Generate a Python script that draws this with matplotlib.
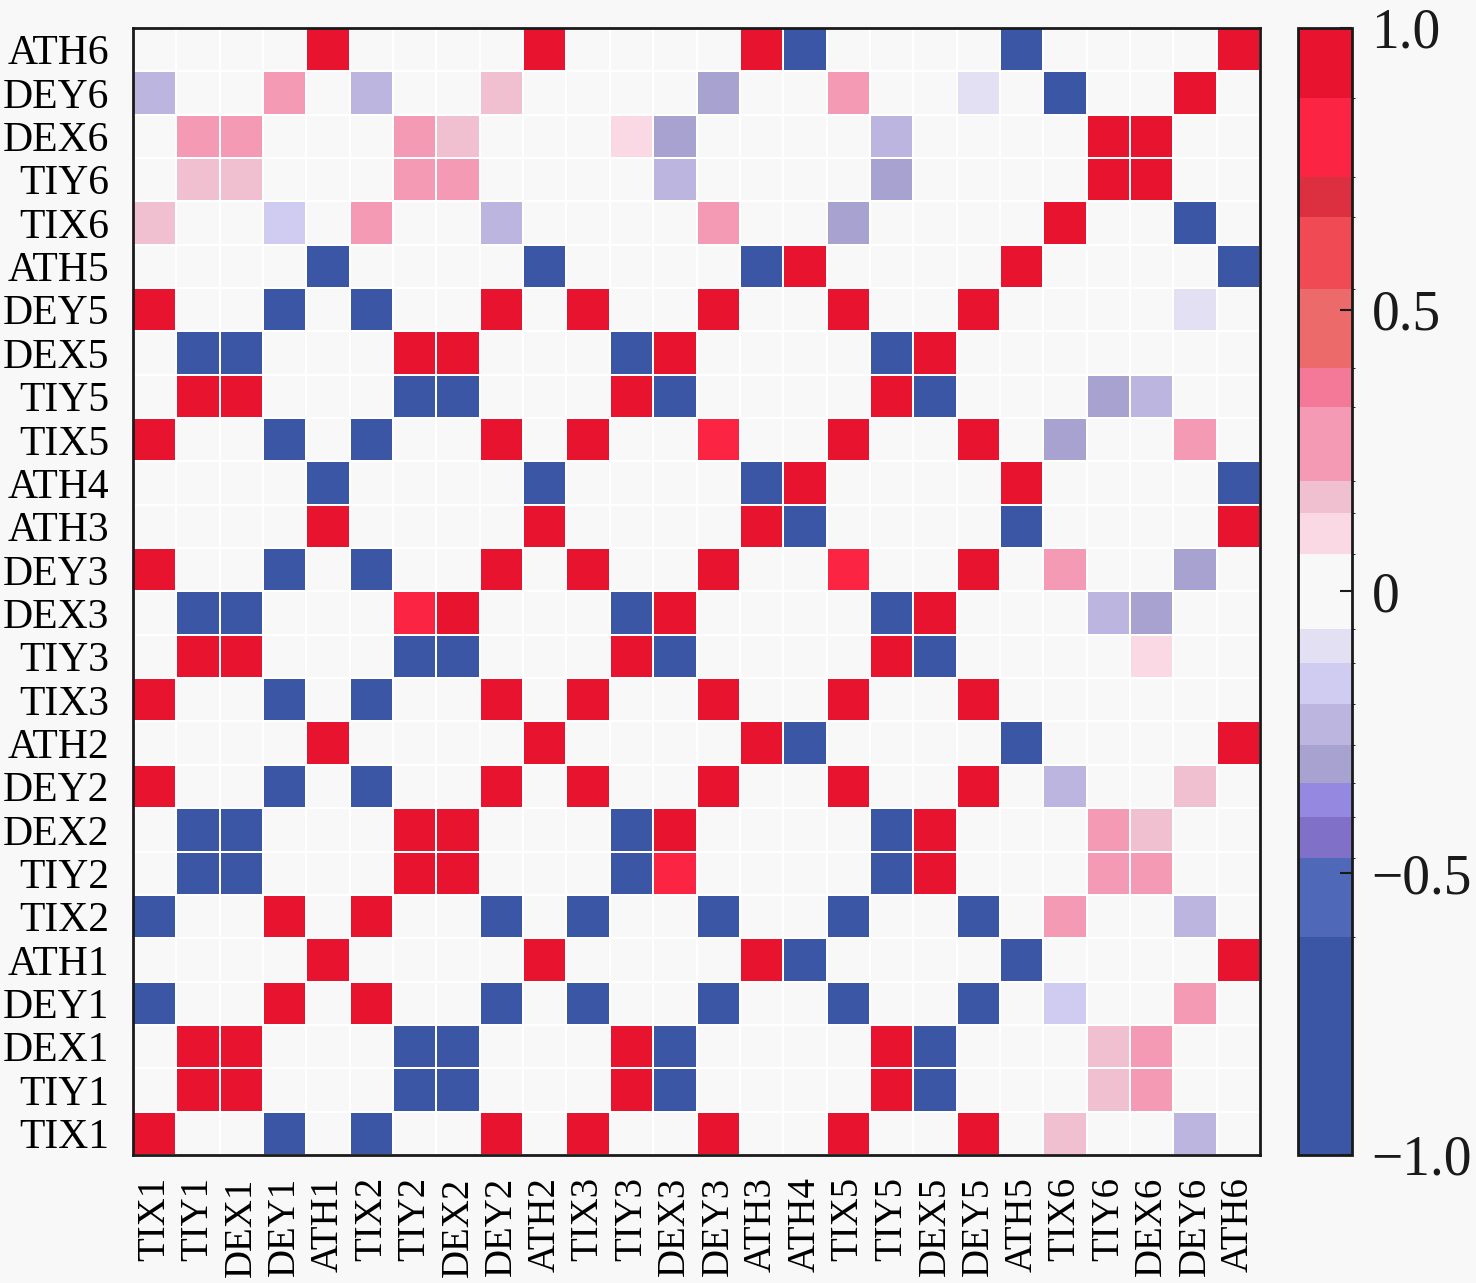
import numpy as np
import matplotlib.pyplot as plt
from matplotlib.colors import ListedColormap, BoundaryNorm

# category order (columns left->right, rows bottom->top)
labels = ['TIX1', 'TIY1', 'DEX1', 'DEY1', 'ATH1', 'TIX2', 'TIY2', 'DEX2', 'DEY2', 'ATH2',
          'TIX3', 'TIY3', 'DEX3', 'DEY3', 'ATH3', 'ATH4', 'TIX5', 'TIY5', 'DEX5', 'DEY5',
          'ATH5', 'TIX6', 'TIY6', 'DEX6', 'DEY6', 'ATH6']

# one list per row
TIX1 = [0.95, 0, 0, -0.95, 0, -0.95, 0, 0, 0.95, 0, 0.95, 0, 0, 0.95, 0, 0, 0.95, 0, 0, 0.95, 0, 0.17, 0, 0, -0.23, 0]
TIY1 = [0, 0.95, 0.95, 0, 0, 0, -0.95, -0.95, 0, 0, 0, 0.95, -0.95, 0, 0, 0, 0, 0.95, -0.95, 0, 0, 0, 0.17, 0.25, 0, 0]
DEX1 = [0, 0.95, 0.95, 0, 0, 0, -0.95, -0.95, 0, 0, 0, 0.95, -0.95, 0, 0, 0, 0, 0.95, -0.95, 0, 0, 0, 0.17, 0.25, 0, 0]
DEY1 = [-0.95, 0, 0, 0.95, 0, 0.95, 0, 0, -0.95, 0, -0.95, 0, 0, -0.95, 0, 0, -0.95, 0, 0, -0.95, 0, -0.16, 0, 0, 0.25, 0]
ATH1 = [0, 0, 0, 0, 0.95, 0, 0, 0, 0, 0.95, 0, 0, 0, 0, 0.95, -0.95, 0, 0, 0, 0, -0.95, 0, 0, 0, 0, 0.95]
TIX2 = [-0.95, 0, 0, 0.95, 0, 0.95, 0, 0, -0.95, 0, -0.95, 0, 0, -0.95, 0, 0, -0.95, 0, 0, -0.95, 0, 0.25, 0, 0, -0.23, 0]
TIY2 = [0, -0.95, -0.95, 0, 0, 0, 0.95, 0.95, 0, 0, 0, -0.95, 0.8, 0, 0, 0, 0, -0.95, 0.95, 0, 0, 0, 0.25, 0.25, 0, 0]
DEX2 = [0, -0.95, -0.95, 0, 0, 0, 0.95, 0.95, 0, 0, 0, -0.95, 0.95, 0, 0, 0, 0, -0.95, 0.95, 0, 0, 0, 0.25, 0.17, 0, 0]
DEY2 = [0.95, 0, 0, -0.95, 0, -0.95, 0, 0, 0.95, 0, 0.95, 0, 0, 0.95, 0, 0, 0.95, 0, 0, 0.95, 0, -0.23, 0, 0, 0.17, 0]
ATH2 = [0, 0, 0, 0, 0.95, 0, 0, 0, 0, 0.95, 0, 0, 0, 0, 0.95, -0.95, 0, 0, 0, 0, -0.95, 0, 0, 0, 0, 0.95]
TIX3 = [0.95, 0, 0, -0.95, 0, -0.95, 0, 0, 0.95, 0, 0.95, 0, 0, 0.95, 0, 0, 0.95, 0, 0, 0.95, 0, 0, 0, 0, 0, 0]
TIY3 = [0, 0.95, 0.95, 0, 0, 0, -0.95, -0.95, 0, 0, 0, 0.95, -0.95, 0, 0, 0, 0, 0.95, -0.95, 0, 0, 0, 0, 0.1, 0, 0]
DEX3 = [0, -0.95, -0.95, 0, 0, 0, 0.8, 0.95, 0, 0, 0, -0.95, 0.95, 0, 0, 0, 0, -0.95, 0.95, 0, 0, 0, -0.23, -0.3, 0, 0]
DEY3 = [0.95, 0, 0, -0.95, 0, -0.95, 0, 0, 0.95, 0, 0.95, 0, 0, 0.95, 0, 0, 0.8, 0, 0, 0.95, 0, 0.25, 0, 0, -0.3, 0]
ATH3 = [0, 0, 0, 0, 0.95, 0, 0, 0, 0, 0.95, 0, 0, 0, 0, 0.95, -0.95, 0, 0, 0, 0, -0.95, 0, 0, 0, 0, 0.95]
ATH4 = [0, 0, 0, 0, -0.95, 0, 0, 0, 0, -0.95, 0, 0, 0, 0, -0.95, 0.95, 0, 0, 0, 0, 0.95, 0, 0, 0, 0, -0.95]
TIX5 = [0.95, 0, 0, -0.95, 0, -0.95, 0, 0, 0.95, 0, 0.95, 0, 0, 0.8, 0, 0, 0.95, 0, 0, 0.95, 0, -0.3, 0, 0, 0.25, 0]
TIY5 = [0, 0.95, 0.95, 0, 0, 0, -0.95, -0.95, 0, 0, 0, 0.95, -0.95, 0, 0, 0, 0, 0.95, -0.95, 0, 0, 0, -0.3, -0.23, 0, 0]
DEX5 = [0, -0.95, -0.95, 0, 0, 0, 0.95, 0.95, 0, 0, 0, -0.95, 0.95, 0, 0, 0, 0, -0.95, 0.95, 0, 0, 0, 0, 0, 0, 0]
DEY5 = [0.95, 0, 0, -0.95, 0, -0.95, 0, 0, 0.95, 0, 0.95, 0, 0, 0.95, 0, 0, 0.95, 0, 0, 0.95, 0, 0, 0, 0, -0.1, 0]
ATH5 = [0, 0, 0, 0, -0.95, 0, 0, 0, 0, -0.95, 0, 0, 0, 0, -0.95, 0.95, 0, 0, 0, 0, 0.95, 0, 0, 0, 0, -0.95]
TIX6 = [0.17, 0, 0, -0.16, 0, 0.25, 0, 0, -0.23, 0, 0, 0, 0, 0.25, 0, 0, -0.3, 0, 0, 0, 0, 0.95, 0, 0, -0.95, 0]
TIY6 = [0, 0.17, 0.17, 0, 0, 0, 0.25, 0.25, 0, 0, 0, 0, -0.23, 0, 0, 0, 0, -0.3, 0, 0, 0, 0, 0.95, 0.95, 0, 0]
DEX6 = [0, 0.25, 0.25, 0, 0, 0, 0.25, 0.17, 0, 0, 0, 0.1, -0.3, 0, 0, 0, 0, -0.23, 0, 0, 0, 0, 0.95, 0.95, 0, 0]
DEY6 = [-0.23, 0, 0, 0.25, 0, -0.23, 0, 0, 0.17, 0, 0, 0, 0, -0.3, 0, 0, 0.25, 0, 0, -0.1, 0, -0.95, 0, 0, 0.95, 0]
ATH6 = [0, 0, 0, 0, 0.95, 0, 0, 0, 0, 0.95, 0, 0, 0, 0, 0.95, -0.95, 0, 0, 0, 0, -0.95, 0, 0, 0, 0, 0.95]

rows = [TIX1, TIY1, DEX1, DEY1, ATH1, TIX2, TIY2, DEX2, DEY2, ATH2, TIX3, TIY3, DEX3,
        DEY3, ATH3, ATH4, TIX5, TIY5, DEX5, DEY5, ATH5, TIX6, TIY6, DEX6, DEY6, ATH6]
data = np.array(rows)

# discrete colour levels as in the colour bar
bounds = [-1, -0.613, -0.473, -0.4, -0.34, -0.273, -0.2, -0.127, -0.067, 0.067,
          0.14, 0.196, 0.327, 0.396, 0.536, 0.664, 0.736, 0.876, 1.0]
colors = ['#3a56a5', '#5068b8', '#8070c8', '#9488e0', '#a8a2d0', '#bbb5e0', '#d0cbf0',
          '#e2e0f2', '#f8f8f8', '#fad8e4', '#f0c0d0', '#f59ab5', '#f47898', '#ec6a6a',
          '#f04a55', '#dc3040', '#fb2442', '#e8132f']
cmap = ListedColormap(colors)
norm = BoundaryNorm(bounds, cmap.N)

plt.rcParams['font.family'] = ['Liberation Serif', 'DejaVu Serif']
bg = '#f8f8f8'

fig = plt.figure(figsize=(14.76, 12.83), dpi=100, facecolor=bg)
ax = fig.add_axes([0.0901, 0.0998, 0.7636, 0.8784])
cax = fig.add_axes([0.8794, 0.0998, 0.0366, 0.8784])

mesh = ax.pcolormesh(data, cmap=cmap, norm=norm, edgecolors='white', linewidth=1.2)
ax.set_facecolor(bg)
ax.set_xlim(0, len(labels))
ax.set_ylim(0, len(labels))
ax.set_xticks(np.arange(len(labels)) + 0.5)
ax.set_yticks(np.arange(len(labels)) + 0.5)
ax.set_xticklabels(labels, rotation=90, fontsize=28)
ax.set_yticklabels(labels, fontsize=30)
ax.tick_params(axis='x', length=0, pad=16)
ax.tick_params(axis='y', length=0, pad=17)
for s in ax.spines.values():
    s.set_linewidth(2)
    s.set_color('#1a1a1a')

cb = fig.colorbar(mesh, cax=cax, ticks=[-1, -0.5, 0, 0.5, 1], spacing='proportional')
cb.ax.set_yticklabels(['\u22121.0', '\u22120.5', '0', '0.5', '1.0'])
cb.ax.tick_params(direction='in', length=9, width=1.5, labelsize=40, pad=14, colors='#1a1a1a')
cb.outline.set_linewidth(2)
cb.outline.set_edgecolor('#1a1a1a')

fig.savefig('out.png', dpi=100, facecolor=bg)
